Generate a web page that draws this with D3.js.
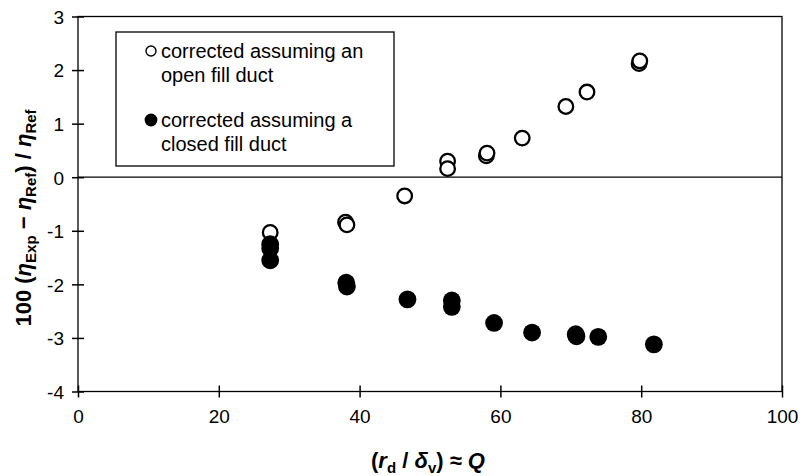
<!DOCTYPE html>
<html>
<head>
<meta charset="utf-8">
<script src="https://cdn.jsdelivr.net/npm/d3@7"></script>
<style>
	body{ margin:0; background:#fff; }
	svg{ display:block; }
	text{ font-family:"Liberation Sans", Arial, sans-serif; fill:#000; }
</style>
</head>
<body>
<div id="chart"></div>
<script>
"use strict";

//********************************* CHART DATA *********************************
var xTicks = [0, 20, 40, 60, 80, 100];			//x axis tick values
var yTicks = [3, 2, 1, 0, -1, -2, -3, -4];		//y axis tick values

//open circles : corrected assuming an open fill duct
var openX = [27.3, 38.0, 38.2, 46.4, 52.5, 52.5, 58.0, 58.1, 63.1, 69.3, 72.3, 79.7, 79.8];
var openY = [-1.03, -0.84, -0.89, -0.35, 0.30, 0.16, 0.40, 0.45, 0.73, 1.32, 1.59, 2.12, 2.17];

//filled circles : corrected assuming a closed fill duct
var closedX = [27.3, 27.3, 27.3, 38.1, 38.2, 46.8, 53.1, 53.1, 59.1, 64.5, 70.7, 70.8, 73.9, 81.8];
var closedY = [-1.25, -1.33, -1.55, -1.97, -2.04, -2.28, -2.30, -2.42, -2.72, -2.90, -2.93, -2.97, -2.98, -3.12];

var legendLines = [
	["corrected assuming an", "open fill duct"],
	["corrected assuming a", "closed fill duct"]
];

//********************************* LAYOUT *********************************
var width = 803, height = 476;
var plotLeft = 78, plotRight = 782, plotTop = 16.5, plotBottom = 391.5;

var svg = d3.select("#chart").append("svg")
			.attr("width", width)
			.attr("height", height);

var x = d3.scaleLinear().domain([0, 100]).range([plotLeft, plotRight]);
var y = d3.scaleLinear().domain([-4, 3]).range([plotBottom, plotTop]);

//plot frame
svg.append("rect")
	.attr("x", plotLeft).attr("y", plotTop)
	.attr("width", plotRight - plotLeft).attr("height", plotBottom - plotTop)
	.attr("fill", "none").attr("stroke", "#000").attr("stroke-width", 1.3);

//zero line
svg.append("line")
	.attr("x1", plotLeft).attr("x2", plotRight)
	.attr("y1", y(0)).attr("y2", y(0))
	.attr("stroke", "#000").attr("stroke-width", 1.3);

//********************************* AXES *********************************
//ticks cross the axis line so both sides are drawn
var plainFormat = function(d){ return String(d); };		//"-1" with a hyphen, no decimals

var yAxis = d3.axisLeft(y).tickValues(yTicks).tickFormat(plainFormat).tickSizeInner(5).tickSizeOuter(0).tickPadding(9);
var gy = svg.append("g").attr("transform", "translate(" + plotLeft + ",0)").call(yAxis);
gy.select(".domain").remove();
gy.selectAll(".tick line").attr("x1", -6).attr("x2", 6).attr("stroke", "#000").attr("stroke-width", 1.5);
gy.selectAll(".tick text").attr("font-size", 19).attr("font-family", "Liberation Sans, Arial, sans-serif").attr("dy", "0.36em");

var xAxis = d3.axisBottom(x).tickValues(xTicks).tickFormat(plainFormat).tickSizeInner(5).tickSizeOuter(0).tickPadding(13);
var gx = svg.append("g").attr("transform", "translate(0," + plotBottom + ")").call(xAxis);
gx.select(".domain").remove();
gx.selectAll(".tick line").attr("y1", -6).attr("y2", 6).attr("stroke", "#000").attr("stroke-width", 1.5);
gx.selectAll(".tick text").attr("font-size", 19).attr("font-family", "Liberation Sans, Arial, sans-serif");

//********************************* AXIS TITLES *********************************
var yTitle = svg.append("text")
	.attr("transform", "translate(31,218) rotate(-90)")
	.attr("text-anchor", "middle")
	.attr("font-size", 22)
	.attr("font-weight", "bold");

//[text, italic, subscript]
var yParts = [["100 (", false, false], ["\u03B7", true, false], ["Exp", false, true], [" \u2212 ", false, false],
			  ["\u03B7", true, false], ["Ref", false, true], [") / ", false, false], ["\u03B7", true, false], ["Ref", false, true]];
addParts(yTitle, yParts);

var xTitle = svg.append("text")
	.attr("x", 428)
	.attr("y", 468)
	.attr("text-anchor", "middle")
	.attr("font-size", 22)
	.attr("font-weight", "bold");

var xParts = [["(", false, false], ["r", true, false], ["d", false, true], [" / ", false, false],
			  ["\u03B4", true, false], ["v", false, true], [") \u2248 ", false, false], ["Q", true, false]];
addParts(xTitle, xParts);

//appends tspans with italic / subscript handling
function addParts(node, parts){
	var shifted = false;
	parts.forEach(function(p){
		var t = node.append("tspan").text(p[0]);
		if(p[1]) t.attr("font-style", "italic");
		if(p[2]){
			t.attr("font-size", 15).attr("dy", shifted ? 0 : 5);
			shifted = true;
		}
		else if(shifted){
			t.attr("dy", -5);
			shifted = false;
		}
	});
}

//********************************* DATA POINTS *********************************
var openPts = openX.map(function(d, i){ return [d, openY[i]]; });
var closedPts = closedX.map(function(d, i){ return [d, closedY[i]]; });

svg.append("g").selectAll("circle")
	.data(openPts)
	.enter()
		.append("circle")
		.attr("cx", function(d){ return x(d[0]); })
		.attr("cy", function(d){ return y(d[1]); })
		.attr("r", 7.3)
		.attr("fill", "#fff")
		.attr("stroke", "#000")
		.attr("stroke-width", 2.3);

svg.append("g").selectAll("circle")
	.data(closedPts)
	.enter()
		.append("circle")
		.attr("cx", function(d){ return x(d[0]); })
		.attr("cy", function(d){ return y(d[1]); })
		.attr("r", 8.9)
		.attr("fill", "#000");

//********************************* LEGEND *********************************
var legend = svg.append("g");
legend.append("rect")
	.attr("x", 116).attr("y", 32)
	.attr("width", 278).attr("height", 134)
	.attr("fill", "#fff").attr("stroke", "#000").attr("stroke-width", 1.3);

var legendBase = [58, 127];		//baseline of first line of each entry
for(var i = 0; i < legendLines.length; ++i){
	var mk = legend.append("circle")
		.attr("cx", 151)
		.attr("cy", legendBase[i] - 7);
	if(i == 0){
		mk.attr("r", 5).attr("fill", "#fff").attr("stroke", "#000").attr("stroke-width", 1.4);
	}
	else{
		mk.attr("r", 6.4).attr("fill", "#000");
	}
	var lt = legend.append("text").attr("font-size", 20);
	lt.append("tspan").attr("x", 161).attr("y", legendBase[i]).text(legendLines[i][0]);
	lt.append("tspan").attr("x", 161).attr("y", legendBase[i] + 24).text(legendLines[i][1]);
}
</script>
</body>
</html>
